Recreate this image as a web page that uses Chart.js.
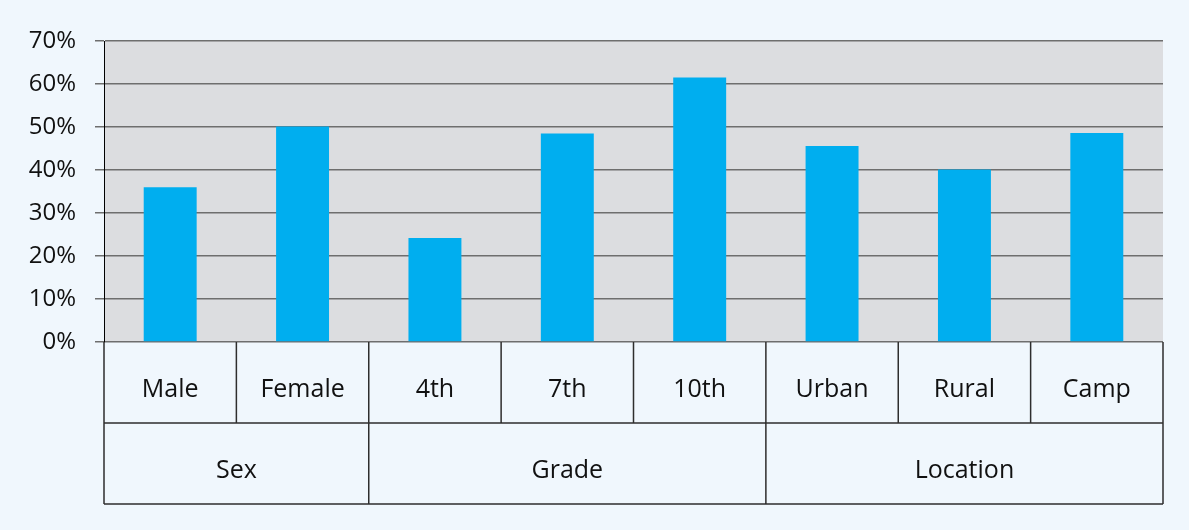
<!DOCTYPE html>
<html>
<head>
<meta charset="utf-8">
<script src="https://cdn.jsdelivr.net/npm/chart.js@4"></script>
<style>
  html, body { margin: 0; padding: 0; background: #f0f7fd; }
  #wrap { width: 1189px; height: 530px; }
</style>
</head>
<body>
<div id="wrap"><canvas id="barChart" width="1189" height="530"></canvas></div>
<script>
const categories = ['Male', 'Female', '4th', '7th', '10th', 'Urban', 'Rural', 'Camp'];
const values = [36.0, 50.1, 24.2, 48.5, 61.5, 45.6, 40.1, 48.6];
const groupNames = ['Sex', 'Grade', 'Location'];
const groupSizes = [2, 3, 3];
const yTicks = [0, 10, 20, 30, 40, 50, 60, 70];

const FONT = '"Open Sans", sans-serif';
const ROW_H = 81;

// grey plot background behind the bars
const plotBg = {
  id: 'plotBg',
  beforeDraw(chart) {
    const { ctx, chartArea: a } = chart;
    ctx.save();
    ctx.fillStyle = '#dcdde0';
    ctx.fillRect(a.left, a.top, a.right - a.left, a.bottom - a.top);
    ctx.restore();
  },
};

// two-row category table under the plot
const catTable = {
  id: 'catTable',
  afterDraw(chart) {
    const { ctx, chartArea: a } = chart;
    const x = chart.scales.x;
    const step = (a.right - a.left) / categories.length;
    const top = a.bottom;
    const mid = top + ROW_H;
    const bot = mid + ROW_H;
    ctx.save();
    ctx.strokeStyle = '#2e2e2e';
    ctx.lineWidth = 1.5;
    ctx.beginPath();
    ctx.moveTo(a.left, mid); ctx.lineTo(a.right, mid);
    ctx.moveTo(a.left, bot); ctx.lineTo(a.right, bot);
    for (let i = 0; i <= categories.length; i++) {
      const px = a.left + i * step;
      ctx.moveTo(px, top); ctx.lineTo(px, mid);
    }
    let idx = 0;
    ctx.moveTo(a.left, mid); ctx.lineTo(a.left, bot);
    groupSizes.forEach(n => {
      idx += n;
      const px = a.left + idx * step;
      ctx.moveTo(px, mid); ctx.lineTo(px, bot);
    });
    ctx.stroke();

    ctx.fillStyle = '#111';
    ctx.font = '25px ' + FONT;
    ctx.textAlign = 'center';
    ctx.textBaseline = 'alphabetic';
    categories.forEach((c, i) => {
      ctx.fillText(c, x.getPixelForValue(i), top + 55);
    });
    idx = 0;
    groupNames.forEach((g, k) => {
      const cx = a.left + (idx + groupSizes[k] / 2) * step;
      ctx.fillText(g, cx, mid + 55);
      idx += groupSizes[k];
    });
    ctx.restore();
  },
};

new Chart('barChart', {
  type: 'bar',
  data: {
    labels: categories,
    datasets: [{
      data: values,
      backgroundColor: '#00aeef',
      borderWidth: 0,
      categoryPercentage: 1,
      barPercentage: 0.4,
    }],
  },
  options: {
    responsive: false,
    animation: false,
    layout: { padding: { top: 41, right: 26, bottom: 188, left: 0 } },
    plugins: { legend: { display: false }, tooltip: { enabled: false } },
    scales: {
      x: { display: false },
      y: {
        min: 0,
        max: 70,
        afterFit(scale) { scale.width = 104; },
        afterBuildTicks(scale) { scale.ticks = yTicks.map(v => ({ value: v })); },
        border: { display: true, color: '#000', width: 1 },
        grid: { color: '#6e6e6e', lineWidth: 1.5, tickLength: 9, drawTicks: true },
        ticks: {
          color: '#111',
          font: { size: 24, family: FONT },
          padding: 19,
          callback: v => v + '%',
        },
      },
    },
  },
  plugins: [plotBg, catTable],
});
</script>
</body>
</html>
